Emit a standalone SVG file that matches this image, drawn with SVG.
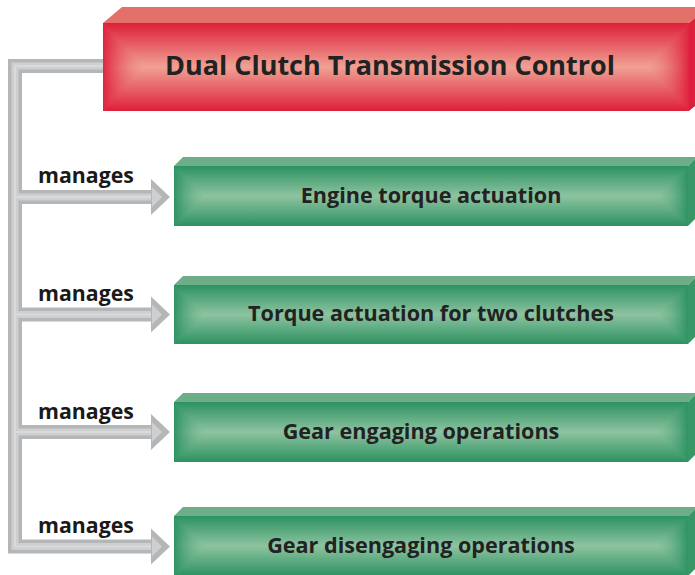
<svg xmlns="http://www.w3.org/2000/svg" width="695" height="575" viewBox="0 0 695 575">
<defs>
<linearGradient id="rv" x1="0" y1="0" x2="0" y2="1">
<stop offset="0" stop-color="#de1f3a"/><stop offset="0.5" stop-color="#f0a194"/><stop offset="1" stop-color="#de1f3a"/>
</linearGradient>
<linearGradient id="rl" x1="0" y1="0" x2="1" y2="0">
<stop offset="0" stop-color="#e02440"/><stop offset="1" stop-color="#ef9a8e" stop-opacity="0.3"/>
</linearGradient>
<linearGradient id="rr" x1="1" y1="0" x2="0" y2="0">
<stop offset="0" stop-color="#e02440"/><stop offset="1" stop-color="#ef9a8e" stop-opacity="0.3"/>
</linearGradient>
<linearGradient id="gv" x1="0" y1="0" x2="0" y2="1">
<stop offset="0" stop-color="#2c9260"/><stop offset="0.5" stop-color="#8dc3a0"/><stop offset="1" stop-color="#2c9260"/>
</linearGradient>
<linearGradient id="gl" x1="0" y1="0" x2="1" y2="0">
<stop offset="0" stop-color="#2f9462"/><stop offset="1" stop-color="#86bf9b" stop-opacity="0.3"/>
</linearGradient>
<linearGradient id="gr" x1="1" y1="0" x2="0" y2="0">
<stop offset="0" stop-color="#2f9462"/><stop offset="1" stop-color="#86bf9b" stop-opacity="0.3"/>
</linearGradient>
</defs>
<style>
.title{font-family:"Open Sans","Noto Sans","Liberation Sans",sans-serif;font-weight:bold;font-size:27px;fill:#222;text-anchor:middle}
.lbl{font-family:"Open Sans","Noto Sans","Liberation Sans",sans-serif;font-weight:bold;font-size:21.6px;fill:#222;text-anchor:middle}
.lab{font-family:"Open Sans","Noto Sans","Liberation Sans",sans-serif;font-weight:bold;font-size:21.3px;fill:#1a1a1a}
.bo{fill:none;stroke:#b4b6b8;stroke-width:14;stroke-linejoin:miter}
.bi{fill:none;stroke:#cdcfd1;stroke-width:7;stroke-linejoin:miter}
.bc{fill:none;stroke:#d8dadc;stroke-width:2;stroke-linejoin:miter}
.ho{fill:#b4b6b8}
.hi{fill:#cdcfd1}
.gtop{fill:#6dae89}
.gside{fill:#379766}
.gfront{fill:url(#gv)}
.gl{fill:url(#gl)}
.gr{fill:url(#gr)}
</style>
<g id="connectors">
<path class="bo" d="M103 66 H15 V546.5 H152"/>
<path class="bo" d="M15 197 H152 M15 314.5 H152 M15 432 H152"/>
<path class="bi" d="M103 66 H15 V546.5 H152"/>
<path class="bi" d="M15 197 H152 M15 314.5 H152 M15 432 H152"/>
<path class="bc" d="M103 66 H15 V546.5 H152"/>
<path class="bc" d="M15 197 H152 M15 314.5 H152 M15 432 H152"/>
<polygon class="ho" points="151,179 170,197 151,215"/>
<polygon class="hi" points="152,187 162,197 152,207"/>
<polygon class="ho" points="151,296.5 170,314.5 151,332.5"/>
<polygon class="hi" points="152,304.5 162,314.5 152,324.5"/>
<polygon class="ho" points="151,414 170,432 151,450"/>
<polygon class="hi" points="152,422 162,432 152,442"/>
<polygon class="ho" points="151,528.5 170,546.5 151,564.5"/>
<polygon class="hi" points="152,536.5 162,546.5 152,556.5"/>
<text class="lab" x="38" y="183">manages</text>
<text class="lab" x="38" y="301">manages</text>
<text class="lab" x="38" y="419">manages</text>
<text class="lab" x="38" y="533">manages</text>
</g>
<g id="main">
<polygon fill="#e4706a" points="103,23 122,7 708,7 689,23"/>
<polygon fill="#dc1f3c" points="689,23 708,7 708,95 689,111"/>
<rect x="103" y="23" width="586" height="88" fill="url(#rv)"/>
<polygon fill="url(#rl)" points="103,23 143,67 103,111"/>
<polygon fill="url(#rr)" points="689,23 649,67 689,111"/>
<text class="title" x="390" y="75">Dual Clutch Transmission Control</text>
</g>
<g id="n1">
<polygon class="gtop" points="174,166 183,157 697,157 688,166"/>
<polygon class="gside" points="688,166 697,157 697,217 688,226"/>
<rect class="gfront" x="174" y="166" width="514" height="60"/>
<polygon class="gl" points="174,166 204,196 174,226"/>
<polygon class="gr" points="688,166 658,196 688,226"/>
<text class="lbl" x="431" y="203">Engine torque actuation</text>
</g>
<g id="n2">
<polygon class="gtop" points="174,285 183,276 697,276 688,285"/>
<polygon class="gside" points="688,285 697,276 697,335 688,344"/>
<rect class="gfront" x="174" y="285" width="514" height="59"/>
<polygon class="gl" points="174,285 204,314.5 174,344"/>
<polygon class="gr" points="688,285 658,314.5 688,344"/>
<text class="lbl" x="431" y="321">Torque actuation for two clutches</text>
</g>
<g id="n3">
<polygon class="gtop" points="174,402 183,393 697,393 688,402"/>
<polygon class="gside" points="688,402 697,393 697,453 688,462"/>
<rect class="gfront" x="174" y="402" width="514" height="60"/>
<polygon class="gl" points="174,402 204,432 174,462"/>
<polygon class="gr" points="688,402 658,432 688,462"/>
<text class="lbl" x="421" y="439">Gear engaging operations</text>
</g>
<g id="n4">
<polygon class="gtop" points="174,516 183,507 697,507 688,516"/>
<polygon class="gside" points="688,516 697,507 697,567 688,576"/>
<rect class="gfront" x="174" y="516" width="514" height="60"/>
<polygon class="gl" points="174,516 204,546 174,576"/>
<polygon class="gr" points="688,516 658,546 688,576"/>
<text class="lbl" x="421" y="553">Gear disengaging operations</text>
</g>
</svg>
